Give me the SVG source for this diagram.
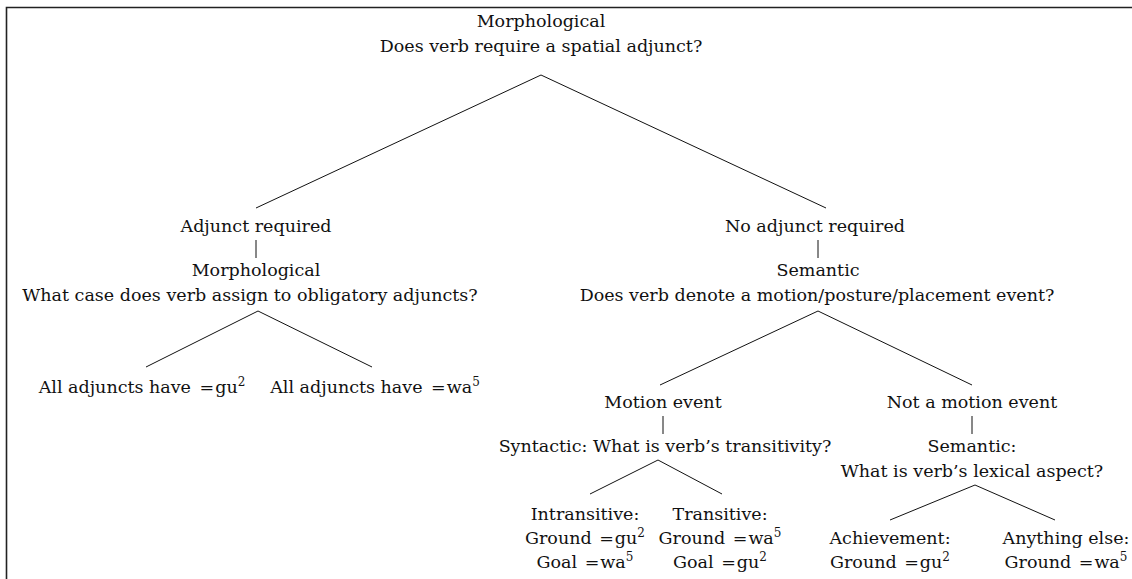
<svg xmlns="http://www.w3.org/2000/svg" width="1132" height="579" viewBox="0 0 1132 579">
<style>
text{font-family:"DejaVu Serif","Liberation Serif",serif;font-size:17.5px;fill:#111;text-anchor:middle}
.sup{font-size:12px}
.edge{stroke:#111;stroke-width:1;fill:none}
.frame{stroke:#222;stroke-width:1.6;fill:none}
</style>
<rect width="1132" height="579" fill="#fff"/>
<path class="frame" d="M6.5,600 V7.5 H1140"/>
<g id="connectors">
<path class="edge" d="M541,75 L256,208 M541,75 L826,208"/>
<path class="edge" d="M256,240 V258"/>
<path class="edge" d="M258,311 L146,367 M258,311 L372,367"/>
<path class="edge" d="M818,240 V258"/>
<path class="edge" d="M818,311 L660,385 M818,311 L972,385"/>
<path class="edge" d="M663,416 V434"/>
<path class="edge" d="M972,416 V434"/>
<path class="edge" d="M658,460 L590,494 M658,460 L722,494"/>
<path class="edge" d="M975,485 L890,520 M975,485 L1055,520"/>
</g>
<g id="root">
<text x="541" y="27">Morphological</text>
<text x="541" y="52">Does verb require a spatial adjunct?</text>
</g>
<g id="adjunct-required">
<text x="256" y="232">Adjunct required</text>
</g>
<g id="morph-case">
<text x="256" y="276">Morphological</text>
<text x="250" y="301">What case does verb assign to obligatory adjuncts?</text>
</g>
<g id="all-gu">
<text x="142" y="393">All adjuncts have <tspan dx="3">=</tspan><tspan dx="1">gu</tspan><tspan class="sup" dy="-7">2</tspan></text>
</g>
<g id="all-wa">
<text x="375" y="393">All adjuncts have <tspan dx="3">=</tspan><tspan dx="1">wa</tspan><tspan class="sup" dy="-7">5</tspan></text>
</g>
<g id="no-adjunct">
<text x="815" y="232">No adjunct required</text>
</g>
<g id="semantic-motion">
<text x="818" y="276">Semantic</text>
<text x="817" y="301">Does verb denote a motion/posture/placement event?</text>
</g>
<g id="motion-event">
<text x="663" y="408">Motion event</text>
</g>
<g id="syntactic">
<text x="665" y="452">Syntactic: What is verb’s transitivity?</text>
</g>
<g id="not-motion">
<text x="972" y="408">Not a motion event</text>
</g>
<g id="semantic-aspect">
<text x="972" y="452">Semantic:</text>
<text x="972" y="477">What is verb’s lexical aspect?</text>
</g>
<g id="intransitive">
<text x="585" y="520">Intransitive:</text>
<text x="585" y="544">Ground <tspan dx="2">=</tspan><tspan dx="1">gu</tspan><tspan class="sup" dy="-7">2</tspan></text>
<text x="585" y="568">Goal <tspan dx="2">=</tspan><tspan dx="1">wa</tspan><tspan class="sup" dy="-7">5</tspan></text>
</g>
<g id="transitive">
<text x="720" y="520">Transitive:</text>
<text x="720" y="544">Ground <tspan dx="2">=</tspan><tspan dx="1">wa</tspan><tspan class="sup" dy="-7">5</tspan></text>
<text x="720" y="568">Goal <tspan dx="2">=</tspan><tspan dx="1">gu</tspan><tspan class="sup" dy="-7">2</tspan></text>
</g>
<g id="achievement">
<text x="890" y="544">Achievement:</text>
<text x="890" y="568">Ground <tspan dx="2">=</tspan><tspan dx="1">gu</tspan><tspan class="sup" dy="-7">2</tspan></text>
</g>
<g id="anything-else">
<text x="1066" y="544">Anything else:</text>
<text x="1066" y="568">Ground <tspan dx="2">=</tspan><tspan dx="1">wa</tspan><tspan class="sup" dy="-7">5</tspan></text>
</g>
</svg>
